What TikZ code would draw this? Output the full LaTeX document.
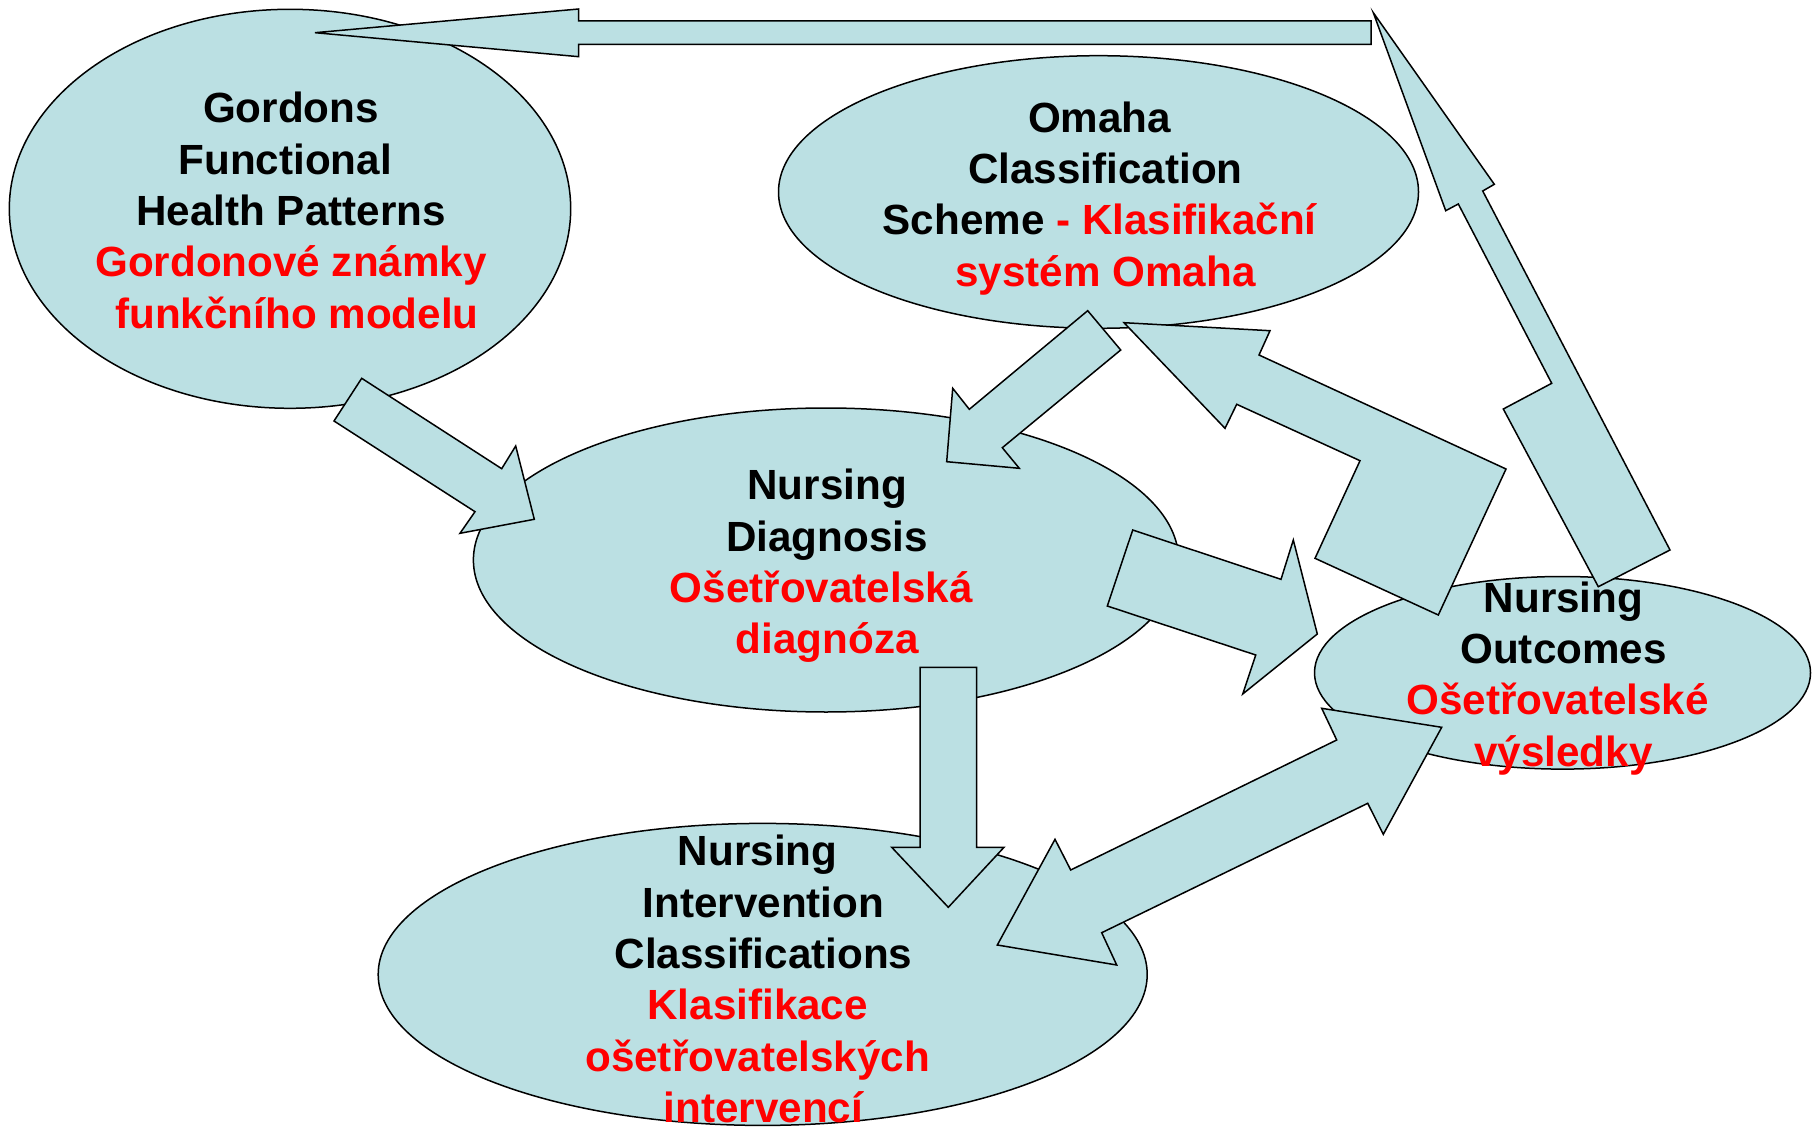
\documentclass[tikz,border=0pt]{standalone}
\usepackage{fontspec}
\setmainfont{Liberation Sans}
\usepackage{tikz}
\usetikzlibrary{shapes.geometric}
\definecolor{celeste}{RGB}{187,224,227}
\tikzset{elipse/.style={ellipse, draw, fill=celeste, line width=0.75pt, inner sep=0pt, outer sep=0pt}}
\tikzset{flecha/.style={draw, fill=celeste, line width=0.75pt, line join=miter}}
\tikzset{texto/.style={align=center, inner sep=0pt, font=\fontsize{21.1pt}{25.7pt}\selectfont\bfseries}}
\newcommand{\rojo}[1]{\textcolor{red}{#1}}
\newcommand{\esp}{\kern0.278em}

\begin{document}
\begin{tikzpicture}[x=0.5pt, y=-0.5pt]
    \useasboundingbox (0,0) rectangle (1819,1128);

    \node[elipse, minimum width=280.7pt, minimum height=199.5pt] (gordon) at (290,208.8) {};
    \node[elipse, minimum width=320pt,   minimum height=136.3pt] (omaha)  at (1098.5,192) {};
    \node[elipse, minimum width=352.6pt, minimum height=152pt]   (diag)   at (826,560) {};
    \node[elipse, minimum width=248pt,   minimum height=96.3pt]  (result) at (1562.5,672.8) {};
    \node[elipse, minimum width=384.5pt, minimum height=151pt]   (interv) at (762.7,974.4) {};

    \draw[flecha] (315,32.7) -- (578.7,9) -- (578.7,21) -- (1371,21) -- (1371,44.5) -- (578.7,44.5) -- (578.7,56.7) -- cycle;
    \draw[flecha] (1373.3,12.7) -- (1494.3,184.3) -- (1482.7,191) -- (1670,550) -- (1598.3,586.7) -- (1503.3,409) -- (1551.7,383.3) -- (1458.3,204) -- (1445.7,210.7) -- cycle;
    \draw[flecha] (361.7,378.3) -- (501.7,468.7) -- (515.7,446) -- (534.3,519.3) -- (460,533.3) -- (475,511.7) -- (334,421) -- cycle;
    \draw[flecha] (1087.7,310.7) -- (1120.7,350) -- (1002.3,447.7) -- (1019.3,468.3) -- (946.7,461.7) -- (952.7,388.3) -- (969.3,409.3) -- cycle;
    \draw[flecha] (1124,322.7) -- (1270,330.7) -- (1259,355) -- (1506,469) -- (1438.3,615) -- (1315,558.3) -- (1360,460.7) -- (1236.7,404.3) -- (1225,428.3) -- cycle;
    \draw[flecha] (1132.7,530) -- (1281,579.3) -- (1293.3,540) -- (1317.3,634) -- (1242.7,694) -- (1255.7,655) -- (1107.3,606) -- cycle;
    \draw[flecha] (920,667.3) -- (976.7,667.3) -- (976.7,847.3) -- (1004,847.3) -- (948.3,907.3) -- (891.7,847.3) -- (920,847.3) -- cycle;
    \draw[flecha] (1441.7,727.3) -- (1383.3,834.3) -- (1367.7,803.3) -- (1101.7,932.7) -- (1116.7,965) -- (997.3,945) -- (1055,839.3) -- (1070.7,870) -- (1336.7,740) -- (1321.7,708.3) -- cycle;

    \node[texto] (gordonT) at (291,210.5) {Gordons\\Functional\esp\\Health Patterns\\\rojo{Gordonové známky}\\\rojo{\esp funkčního modelu}};
    \node[texto] (omahaT)  at (1105.5,198.3) {Omaha\esp\\Classification\\Scheme \rojo{- Klasifikační}\esp\\\rojo{systém Omaha}};
    \node[texto] (diagT)   at (827.1,566) {Nursing\\Diagnosis\\\rojo{Ošetřovatelská}\esp\\\rojo{diagnóza}};
    \node[texto] (resultT) at (1563.5,678.3) {Nursing\\Outcomes\\\rojo{Ošetřovatelské}\esp\\\rojo{výsledky}};
    \node[texto] (intervT) at (763.5,979.2) {Nursing\esp\\Intervention\\Classifications\\\rojo{Klasifikace}\esp\\\rojo{ošetřovatelských}\esp\\\rojo{intervencí}};
\end{tikzpicture}
\end{document}
